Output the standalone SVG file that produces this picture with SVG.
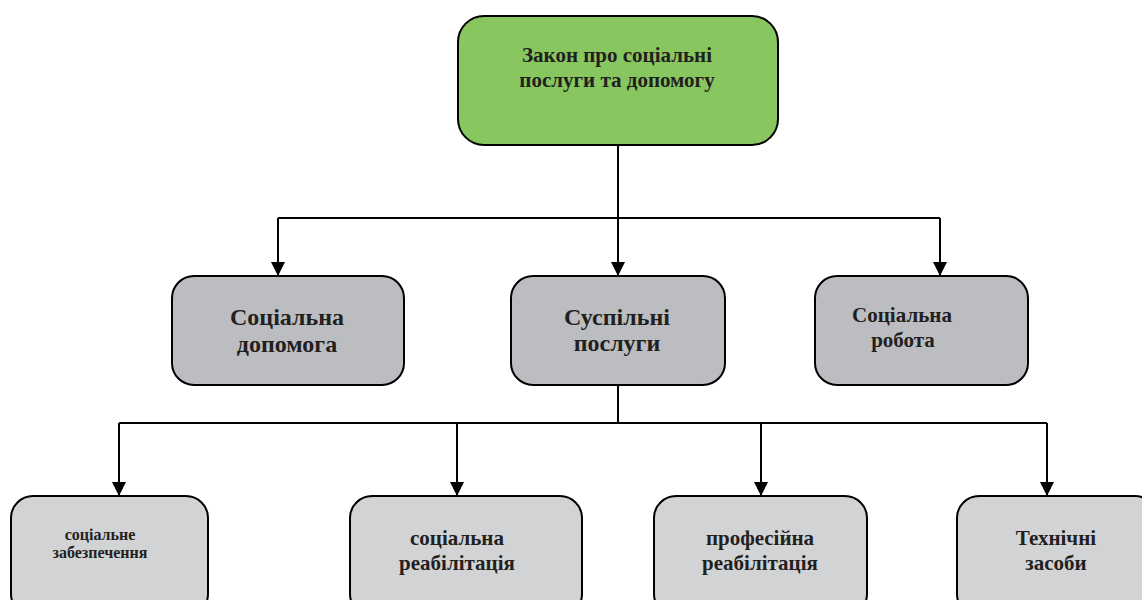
<svg xmlns="http://www.w3.org/2000/svg" width="1142" height="600" viewBox="0 0 1142 600">
  <defs>
    <marker id="arrow" viewBox="0 0 14 14" refX="14" refY="7" markerWidth="14" markerHeight="14" markerUnits="userSpaceOnUse" orient="auto">
      <path d="M0,0 L14,7 L0,14 Z" fill="#000"/>
    </marker>
    <style>
      .box { stroke: #000; stroke-width: 2; }
      .root { fill: #88c65f; }
      .mid { fill: #bcbdc0; }
      .leaf { fill: #d1d3d4; }
      .lbl { font-family: "Liberation Serif", "Times New Roman", serif; font-weight: bold; fill: #231f20; text-anchor: middle; }
      .wire { fill: none; stroke: #000; stroke-width: 2; }
    </style>
  </defs>

  <rect width="1142" height="600" fill="#fff"/>

  <g id="connectors">
    <path class="wire" d="M618,145 V218"/>
    <path class="wire" d="M278,218 H940"/>
    <path class="wire" d="M278,218 V276" marker-end="url(#arrow)"/>
    <path class="wire" d="M618,218 V276" marker-end="url(#arrow)"/>
    <path class="wire" d="M940,218 V276" marker-end="url(#arrow)"/>
    <path class="wire" d="M618,385 V423"/>
    <path class="wire" d="M119,423 H1047"/>
    <path class="wire" d="M119,423 V496" marker-end="url(#arrow)"/>
    <path class="wire" d="M457,423 V496" marker-end="url(#arrow)"/>
    <path class="wire" d="M761,423 V496" marker-end="url(#arrow)"/>
    <path class="wire" d="M1047,423 V496" marker-end="url(#arrow)"/>
  </g>

  <g id="law">
    <rect class="box root" x="458" y="16" width="320" height="129" rx="26"/>
    <text class="lbl" font-size="21" x="617" y="62">Закон про соціальні</text>
    <text class="lbl" font-size="21" x="617" y="87">послуги та допомогу</text>
  </g>

  <g id="social-assistance">
    <rect class="box mid" x="172" y="276" width="232" height="109" rx="22"/>
    <text class="lbl" font-size="24" x="287" y="325">Соціальна</text>
    <text class="lbl" font-size="24" x="287" y="352">допомога</text>
  </g>

  <g id="public-services">
    <rect class="box mid" x="511" y="276" width="214" height="109" rx="22"/>
    <text class="lbl" font-size="24" x="617" y="325">Суспільні</text>
    <text class="lbl" font-size="24" x="617" y="351">послуги</text>
  </g>

  <g id="social-work">
    <rect class="box mid" x="815" y="276" width="213" height="109" rx="22"/>
    <text class="lbl" font-size="21" x="902" y="322">Соціальна</text>
    <text class="lbl" font-size="21" x="903" y="347">робота</text>
  </g>

  <g id="social-security">
    <rect class="box leaf" x="11" y="496" width="197" height="120" rx="22"/>
    <text class="lbl" font-size="16" x="100" y="540">соціальне</text>
    <text class="lbl" font-size="16" x="100" y="558">забезпечення</text>
  </g>

  <g id="social-rehab">
    <rect class="box leaf" x="350" y="496" width="232" height="120" rx="22"/>
    <text class="lbl" font-size="21" x="457" y="545">соціальна</text>
    <text class="lbl" font-size="21" x="457" y="570">реабілітація</text>
  </g>

  <g id="professional-rehab">
    <rect class="box leaf" x="654" y="496" width="213" height="120" rx="22"/>
    <text class="lbl" font-size="21" x="760" y="545">професійна</text>
    <text class="lbl" font-size="21" x="760" y="570">реабілітація</text>
  </g>

  <g id="technical-aids">
    <rect class="box leaf" x="957" y="496" width="200" height="120" rx="22"/>
    <text class="lbl" font-size="21" x="1056" y="545">Технічні</text>
    <text class="lbl" font-size="21" x="1056" y="570">засоби</text>
  </g>
</svg>
